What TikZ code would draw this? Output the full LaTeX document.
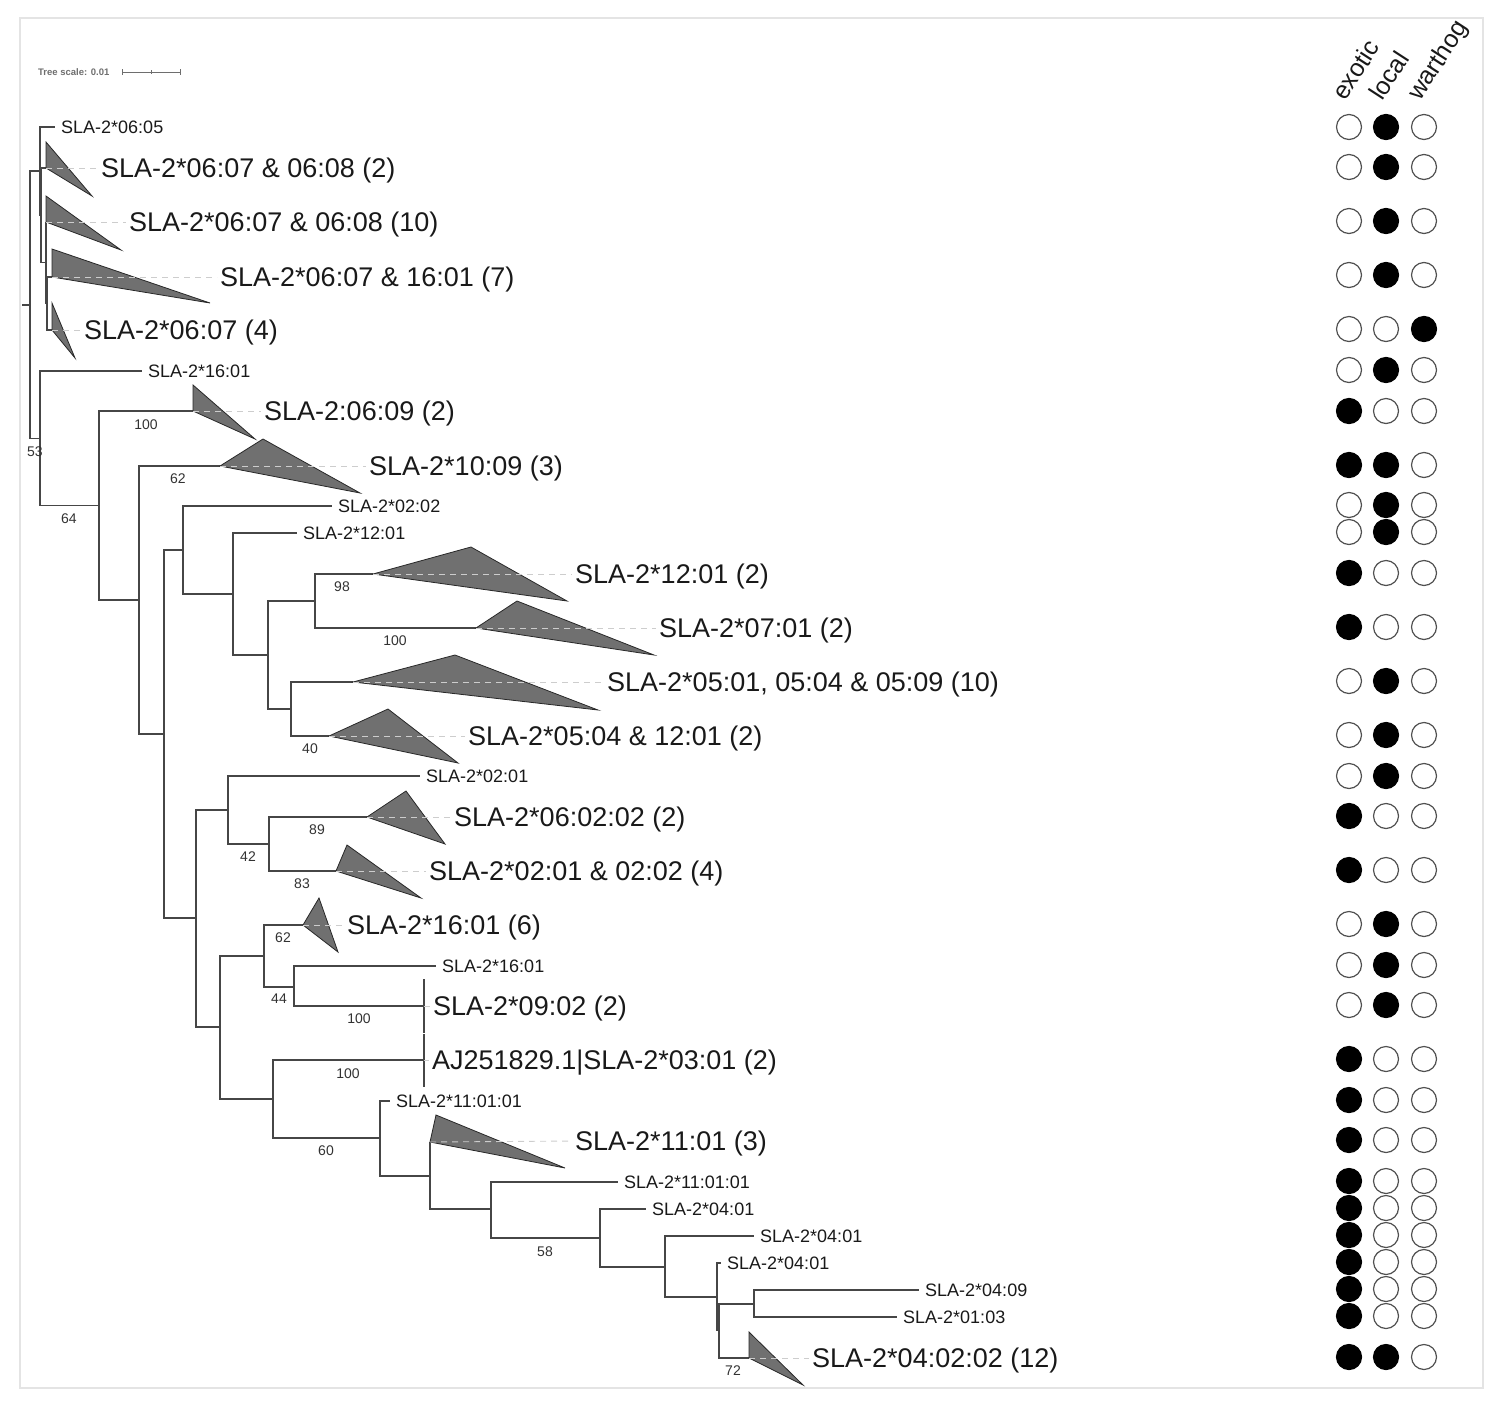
\documentclass[tikz,border=0pt]{standalone}
\usepackage{fontspec}
\setmainfont{Liberation Sans}
\definecolor{brc}{RGB}{70,70,70}
\definecolor{trifill}{RGB}{112,112,112}
\definecolor{tribd}{RGB}{40,40,40}
\definecolor{leadc}{RGB}{205,205,205}
\definecolor{txt}{RGB}{25,25,25}
\definecolor{bsc}{RGB}{50,50,50}
\definecolor{circd}{RGB}{80,80,80}
\definecolor{framec}{RGB}{228,228,228}
\definecolor{scalec}{RGB}{110,110,110}
\begin{document}
\begin{tikzpicture}[x=1pt,y=-1pt,
  br/.style={draw=brc,line width=1.2pt},
  tri/.style={fill=trifill,draw=tribd,line width=0.8pt,line join=miter},
  lead/.style={draw=leadc,dash pattern=on 6pt off 5pt,line width=0.9pt,shorten >=3pt},
  biglbl/.style={anchor=base west,inner sep=0pt,font=\fontsize{27}{30}\selectfont,text=txt,yshift=-9.7pt},
  smalllbl/.style={anchor=base west,inner sep=0pt,font=\fontsize{18}{20}\selectfont,text=txt,yshift=-6.4pt,xshift=6pt},
  bs/.style={anchor=base,inner sep=0pt,font=\fontsize{14}{16}\selectfont,text=bsc,yshift=-5pt},
  hdr/.style={anchor=base west,inner sep=0pt,font=\fontsize{25}{28}\selectfont,text=txt,rotate=57},
  ce/.style={circle,draw=circd,line width=1.2pt,fill=white,minimum size=25pt,inner sep=0pt},
  cf/.style={circle,draw=black,fill=black,line width=1.2pt,minimum size=25pt,inner sep=0pt}]
\useasboundingbox (0,0) rectangle (1500,1406);
\draw[framec,line width=1.5pt] (20,18) rectangle (1483,1388);

% tree scale
\node[anchor=west,inner sep=0pt,font=\fontsize{9.5}{11}\selectfont\bfseries,text=scalec] (scaletxt) at (38,72) {Tree scale: 0.01};
\coordinate (sb1) at (122,72); \coordinate (sb2) at (180,72); \coordinate (sbm) at (151,72);
\draw[scalec,line width=0.9pt] (sb1) -- (sb2);
\draw[scalec,line width=0.9pt] ([yshift=3pt]sb1) -- ([yshift=-3pt]sb1);
\draw[scalec,line width=0.9pt] ([yshift=3pt]sb2) -- ([yshift=-3pt]sb2);
\draw[scalec,line width=0.9pt] ([yshift=2pt]sbm) -- ([yshift=-2pt]sbm);

% internal nodes
\coordinate (root0) at (22,305);
\coordinate (n0) at (30,305);
\coordinate (n1) at (40,171);
\coordinate (n2) at (41,215);
\coordinate (n3) at (46,262.5);
\coordinate (n4) at (47,303);
\coordinate (n5) at (40,438.5);
\coordinate (n6) at (99,505.5);
\coordinate (n7) at (139,600);
\coordinate (n8) at (164,734);
\coordinate (n9) at (183,550);
\coordinate (n10) at (233,594);
\coordinate (n11) at (268,655);
\coordinate (n12) at (315,601);
\coordinate (n13) at (291,709);
\coordinate (n14) at (196,918);
\coordinate (n15) at (228,810);
\coordinate (n16) at (269,844);
\coordinate (n17) at (220,1027);
\coordinate (n18) at (264,956);
\coordinate (n19) at (294,987);
\coordinate (n20) at (273,1099);
\coordinate (n21) at (380,1138);
\coordinate (n22) at (430,1176);
\coordinate (n23) at (491,1209);
\coordinate (n24) at (600,1238);
\coordinate (n25) at (665,1267);
\coordinate (n26) at (717,1297);
\coordinate (n27) at (719,1330);
\coordinate (n28) at (754,1304);

% leaves
\coordinate (l1) at (55,127);
\coordinate (l2) at (142,371);
\coordinate (l3) at (332,506);
\coordinate (l4) at (297,533);
\coordinate (l5) at (420,776);
\coordinate (l6) at (436,966);
\coordinate (l7) at (390,1101);
\coordinate (l8) at (618,1182);
\coordinate (l9) at (646,1209);
\coordinate (l10) at (754,1236);
\coordinate (l11) at (721,1263);
\coordinate (l12) at (919,1290);
\coordinate (l13) at (897,1317);

% collapsed clades: node, top, far, label point
\coordinate (t1n) at (46,168);  \coordinate (t1a) at (46,142);  \coordinate (t1b) at (92,196);  \coordinate (t1L) at (101,168);
\coordinate (t2n) at (46,222);  \coordinate (t2a) at (46,196);  \coordinate (t2b) at (121,250); \coordinate (t2L) at (129,222);
\coordinate (t3n) at (52,277);  \coordinate (t3a) at (52,249);  \coordinate (t3b) at (210,303); \coordinate (t3L) at (220,277);
\coordinate (t4n) at (52,330);  \coordinate (t4a) at (52,303);  \coordinate (t4b) at (75,358);  \coordinate (t4L) at (84,330);
\coordinate (t5n) at (193,411); \coordinate (t5a) at (193,385); \coordinate (t5b) at (255,439); \coordinate (t5L) at (264,411);
\coordinate (t6n) at (220,466); \coordinate (t6a) at (263,439); \coordinate (t6b) at (360,493); \coordinate (t6L) at (369,466);
\coordinate (t7n) at (373,574); \coordinate (t7a) at (471,547); \coordinate (t7b) at (567,601); \coordinate (t7L) at (575,574);
\coordinate (t8n) at (476,628); \coordinate (t8a) at (517,601); \coordinate (t8b) at (654,655); \coordinate (t8L) at (659,628);
\coordinate (t9n) at (353,682); \coordinate (t9a) at (455,655); \coordinate (t9b) at (598,710); \coordinate (t9L) at (607,682);
\coordinate (t10n) at (329,736); \coordinate (t10a) at (388,709); \coordinate (t10b) at (458,763); \coordinate (t10L) at (468,736);
\coordinate (t11n) at (367,817); \coordinate (t11a) at (406,791); \coordinate (t11b) at (445,844); \coordinate (t11L) at (454,817);
\coordinate (t12n) at (336,871); \coordinate (t12a) at (347,845); \coordinate (t12b) at (421,898); \coordinate (t12L) at (429,871);
\coordinate (t13n) at (303,925); \coordinate (t13a) at (319,898); \coordinate (t13b) at (338,952); \coordinate (t13L) at (347,925);
\coordinate (t14n) at (424,1006); \coordinate (t14a) at (424,979); \coordinate (t14b) at (424,1033); \coordinate (t14L) at (433,1006);
\coordinate (t15n) at (424,1060); \coordinate (t15a) at (424,1034); \coordinate (t15b) at (424,1087); \coordinate (t15L) at (432,1060);
\coordinate (t16n) at (430,1142); \coordinate (t16a) at (436,1115); \coordinate (t16b) at (565,1168); \coordinate (t16L) at (575,1141);
\coordinate (t17n) at (749,1358); \coordinate (t17a) at (749,1332); \coordinate (t17b) at (803,1385); \coordinate (t17L) at (812,1358);

% branches
\draw[br] (root0) -- (n0);
\draw[br] (n0) |- (n1); \draw[br] (n0) |- (n5);
\draw[br] (n1) |- (l1); \draw[br] (n1) |- (n2);
\draw[br] (n2) |- (t1n); \draw[br] (n2) |- (n3);
\draw[br] (n3) |- (t2n); \draw[br] (n3) |- (n4);
\draw[br] (n4) |- (t3n); \draw[br] (n4) |- (t4n);
\draw[br] (n5) |- (l2); \draw[br] (n5) |- (n6);
\draw[br] (n6) |- (t5n); \draw[br] (n6) |- (n7);
\draw[br] (n7) |- (t6n); \draw[br] (n7) |- (n8);
\draw[br] (n8) |- (n9); \draw[br] (n8) |- (n14);
\draw[br] (n9) |- (l3); \draw[br] (n9) |- (n10);
\draw[br] (n10) |- (l4); \draw[br] (n10) |- (n11);
\draw[br] (n11) |- (n12); \draw[br] (n11) |- (n13);
\draw[br] (n12) |- (t7n); \draw[br] (n12) |- (t8n);
\draw[br] (n13) |- (t9n); \draw[br] (n13) |- (t10n);
\draw[br] (n14) |- (n15); \draw[br] (n14) |- (n17);
\draw[br] (n15) |- (l5); \draw[br] (n15) |- (n16);
\draw[br] (n16) |- (t11n); \draw[br] (n16) |- (t12n);
\draw[br] (n17) |- (n18); \draw[br] (n17) |- (n20);
\draw[br] (n18) |- (t13n); \draw[br] (n18) |- (n19);
\draw[br] (n19) |- (l6); \draw[br] (n19) |- (t14n);
\draw[br] (n20) |- (t15n); \draw[br] (n20) |- (n21);
\draw[br] (n21) |- (l7); \draw[br] (n21) |- (n22);
\draw[br] (n22) |- (t16n); \draw[br] (n22) |- (n23);
\draw[br] (n23) |- (l8); \draw[br] (n23) |- (n24);
\draw[br] (n24) |- (l9); \draw[br] (n24) |- (n25);
\draw[br] (n25) |- (l10); \draw[br] (n25) |- (n26);
\draw[br] (n26) |- (l11); \draw[br] (n26) |- (n27);
\draw[br] (n27) |- (n28); \draw[br] (n27) |- (t17n);
\draw[br] (n28) |- (l12); \draw[br] (n28) |- (l13);

% triangles
\foreach \k in {1,...,13,16,17}{
  \draw[tri] (t\k n) -- (t\k a) -- (t\k b) -- cycle;
}
\draw[br] (t14a) -- (t14b);
\draw[br] (t15a) -- (t15b);

% leaders
\foreach \k in {1,...,17}{
  \draw[lead] (t\k n) -- (t\k L);
}

% clade labels
\node[biglbl] (c1) at (t1L) {SLA-2*06:07 \& 06:08 (2)};
\node[biglbl] (c2) at (t2L) {SLA-2*06:07 \& 06:08 (10)};
\node[biglbl] (c3) at (t3L) {SLA-2*06:07 \& 16:01 (7)};
\node[biglbl] (c4) at (t4L) {SLA-2*06:07 (4)};
\node[biglbl] (c5) at (t5L) {SLA-2:06:09 (2)};
\node[biglbl] (c6) at (t6L) {SLA-2*10:09 (3)};
\node[biglbl] (c7) at (t7L) {SLA-2*12:01 (2)};
\node[biglbl] (c8) at (t8L) {SLA-2*07:01 (2)};
\node[biglbl] (c9) at (t9L) {SLA-2*05:01, 05:04 \& 05:09 (10)};
\node[biglbl] (c10) at (t10L) {SLA-2*05:04 \& 12:01 (2)};
\node[biglbl] (c11) at (t11L) {SLA-2*06:02:02 (2)};
\node[biglbl] (c12) at (t12L) {SLA-2*02:01 \& 02:02 (4)};
\node[biglbl] (c13) at (t13L) {SLA-2*16:01 (6)};
\node[biglbl] (c14) at (t14L) {SLA-2*09:02 (2)};
\node[biglbl] (c15) at (t15L) {AJ251829.1|SLA-2*03:01 (2)};
\node[biglbl] (c16) at (t16L) {SLA-2*11:01 (3)};
\node[biglbl] (c17) at (t17L) {SLA-2*04:02:02 (12)};

% leaf labels
\node[smalllbl] (s1) at (l1) {SLA-2*06:05};
\node[smalllbl] (s2) at (l2) {SLA-2*16:01};
\node[smalllbl] (s3) at (l3) {SLA-2*02:02};
\node[smalllbl] (s4) at (l4) {SLA-2*12:01};
\node[smalllbl] (s5) at (l5) {SLA-2*02:01};
\node[smalllbl] (s6) at (l6) {SLA-2*16:01};
\node[smalllbl] (s7) at (l7) {SLA-2*11:01:01};
\node[smalllbl] (s8) at (l8) {SLA-2*11:01:01};
\node[smalllbl] (s9) at (l9) {SLA-2*04:01};
\node[smalllbl] (s10) at (l10) {SLA-2*04:01};
\node[smalllbl] (s11) at (l11) {SLA-2*04:01};
\node[smalllbl] (s12) at (l12) {SLA-2*04:09};
\node[smalllbl] (s13) at (l13) {SLA-2*01:03};

% bootstrap values
\node[bs] (b1) at (35,451) {53};
\node[bs] (b2) at (69,518) {64};
\node[bs] (b3) at (146,424) {100};
\node[bs] (b4) at (178,478) {62};
\node[bs] (b5) at (342,586) {98};
\node[bs] (b6) at (395,640) {100};
\node[bs] (b7) at (310,748) {40};
\node[bs] (b8) at (317,829) {89};
\node[bs] (b9) at (248,856) {42};
\node[bs] (b10) at (302,883) {83};
\node[bs] (b11) at (283,937) {62};
\node[bs] (b12) at (279,998) {44};
\node[bs] (b13) at (359,1018) {100};
\node[bs] (b14) at (348,1073) {100};
\node[bs] (b15) at (326,1150) {60};
\node[bs] (b16) at (545,1251) {58};
\node[bs] (b17) at (733,1370) {72};

% header
\node[hdr] (h1) at (1345,102) {exotic};
\node[hdr] (h2) at (1382,102) {local};
\node[hdr] (h3) at (1420,102) {warthog};

% presence circles
\foreach \y/\a/\b/\c [count=\i] in {127/0/1/0,167/0/1/0,221/0/1/0,275/0/1/0,329/0/0/1,370/0/1/0,411/1/0/0,465/1/1/0,505/0/1/0,532/0/1/0,573/1/0/0,627/1/0/0,681/0/1/0,735/0/1/0,776/0/1/0,816/1/0/0,870/1/0/0,924/0/1/0,965/0/1/0,1005/0/1/0,1059/1/0/0,1100/1/0/0,1140/1/0/0,1181/1/0/0,1208/1/0/0,1235/1/0/0,1262/1/0/0,1289/1/0/0,1316/1/0/0,1357/1/1/0}{
  \ifnum\a=1 \node[cf] (e\i) at (1349,\y) {}; \else \node[ce] (e\i) at (1349,\y) {}; \fi
  \ifnum\b=1 \node[cf] (o\i) at (1386,\y) {}; \else \node[ce] (o\i) at (1386,\y) {}; \fi
  \ifnum\c=1 \node[cf] (w\i) at (1424,\y) {}; \else \node[ce] (w\i) at (1424,\y) {}; \fi
}
\end{tikzpicture}
\end{document}
